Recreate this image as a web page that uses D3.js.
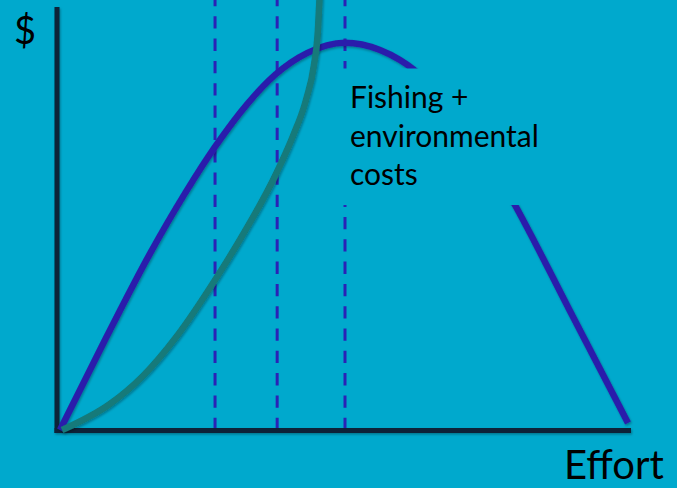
<!DOCTYPE html>
<html>
<head>
<meta charset="utf-8">
<script src="https://cdn.jsdelivr.net/npm/d3@7/dist/d3.min.js"></script>
<style>
  html, body { margin: 0; padding: 0; background: #00a9cd; }
  svg { display: block; }
</style>
</head>
<body>
<svg id="chart" width="677" height="488"></svg>
<script>
// ---- Data (effort 0-100, $ 0-100) ----
const revenueEffort = [0, 7.89, 15.79, 21.93, 27.19, 32.81, 37.72, 43.33, 50, 56.14, 59.65, 61.93, 68.42, 74.56, 79.82, 89.47, 99.65];
const revenueValue  = [0, 22.5, 44.1, 59.15, 70.78, 81.43, 88.78, 94.23, 96.8, 95, 92.5, 90.25, 80.5, 69.25, 56.25, 29.75, 1.75];

const costEffort = [0.35, 8.77, 14.56, 20.53, 27.54, 31.23, 38.07, 40.88, 43.16, 44.56, 45.26, 45.61];
const costValue  = [0, 6.5, 13.5, 23.5, 38.25, 46.75, 64.5, 73.5, 82.5, 91.25, 100, 110];

const markerEffort = [27.2, 38.1, 50];

const labelLines = ["Fishing +", "environmental", "costs"];
const yAxisLabel = "$";
const xAxisLabel = "Effort";

// ---- Layout ----
const svg = d3.select("#chart");
const W = 677, H = 488;
const x = d3.scaleLinear().domain([0, 100]).range([60, 630]);
const y = d3.scaleLinear().domain([0, 100]).range([430, 30]);

const colors = {
  bg: "#00a9cd",
  axis: "#0c2238",
  revenue: "#2a1fab",
  cost: "#137a7a",
  dash: "#2a22b6",
  text: "#000000"
};

svg.append("rect").attr("width", W).attr("height", H).attr("fill", colors.bg);

const defs = svg.append("defs");
const f = defs.append("filter").attr("id", "shadow").attr("x", "-10%").attr("y", "-10%").attr("width", "130%").attr("height", "130%");
f.append("feDropShadow").attr("dx", 1).attr("dy", 1.5).attr("stdDeviation", 1.2)
  .attr("flood-color", "#000").attr("flood-opacity", 0.3);

// dashed markers
svg.append("g").selectAll("line").data(markerEffort).join("line")
  .attr("x1", d => x(d)).attr("x2", d => x(d))
  .attr("y1", 430).attr("y2", 0)
  .attr("stroke", colors.dash).attr("stroke-width", 3)
  .attr("stroke-dasharray", "12.3,10");

// axes
const axisG = svg.append("g").attr("filter", "url(#shadow)");
axisG.append("line").attr("x1", 57).attr("x2", 57).attr("y1", 7).attr("y2", 433)
  .attr("stroke", colors.axis).attr("stroke-width", 5);
axisG.append("line").attr("x1", 54.5).attr("x2", 631).attr("y1", 430.5).attr("y2", 430.5)
  .attr("stroke", colors.axis).attr("stroke-width", 5);

const line = d3.line().x(d => x(d[0])).y(d => y(d[1])).curve(d3.curveMonotoneX);

const revenue = revenueEffort.map((e, i) => [e, revenueValue[i]]);
const cost = costEffort.map((e, i) => [e, costValue[i]]);

svg.append("path").datum(revenue).attr("d", line)
  .attr("fill", "none").attr("stroke", colors.revenue).attr("stroke-width", 6.5)
  .attr("filter", "url(#shadow)");

svg.append("path").datum(cost).attr("d", line)
  .attr("fill", "none").attr("stroke", colors.cost).attr("stroke-width", 6.5)
  .attr("filter", "url(#shadow)");

// label box covering part of the curve
svg.append("rect").attr("x", 342).attr("y", 68.5).attr("width", 178).attr("height", 136.5)
  .attr("fill", colors.bg);

const label = svg.append("text")
  .attr("font-family", "Lato, 'Open Sans', sans-serif")
  .attr("font-size", 30).attr("fill", colors.text);
labelLines.forEach((t, i) => {
  label.append("tspan").attr("x", 350).attr("y", 108 + i * 38.5).text(t);
});

svg.append("text").attr("x", 14).attr("y", 44)
  .attr("font-family", "Lato, 'Open Sans', sans-serif")
  .attr("font-size", 38).attr("fill", colors.text).text(yAxisLabel);

svg.append("text").attr("x", 564).attr("y", 479)
  .attr("font-family", "Lato, 'Open Sans', sans-serif")
  .attr("font-size", 40).attr("fill", colors.text).text(xAxisLabel);
</script>
</body>
</html>
